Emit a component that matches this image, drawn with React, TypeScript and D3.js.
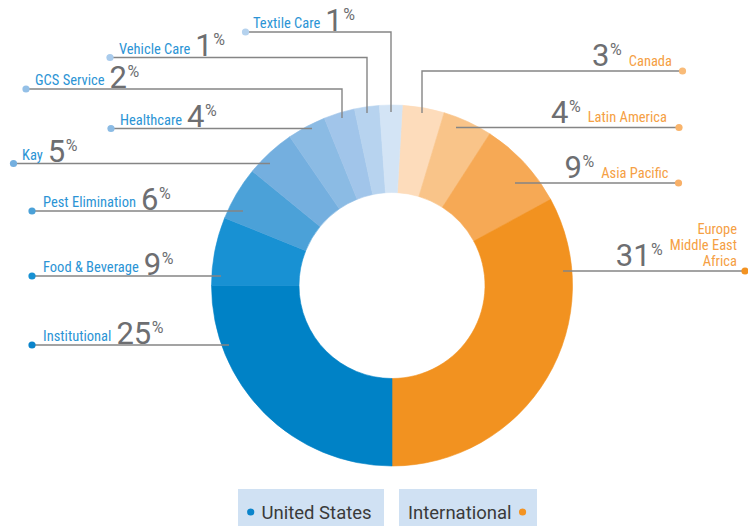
import React, { useEffect, useRef } from 'react';
import * as d3 from 'd3';

// ---------- data ----------
const usCategories = ['Institutional', 'Food & Beverage', 'Pest Elimination', 'Kay', 'Healthcare', 'GCS Service', 'Vehicle Care', 'Textile Care'];
const usPercents = [25, 9, 6, 5, 4, 2, 1, 1];
// slice sizes as drawn in the reference (degrees of the ring)
const usArcShares = [90, 22, 17.3, 16.2, 12.5, 10, 8, 7.3];

const intlCategories = ['Canada', 'Latin America', 'Asia Pacific', 'Europe\nMiddle East\nAfrica'];
const intlPercents = [3, 4, 9, 31];
const intlArcShares = [13.5, 16, 28.7, 118.5];

const legendLabels = ['United States', 'International'];

// ---------- styles ----------
const usColors = ['#0082c6', '#1891d3', '#4ba1d8', '#74afdf', '#8bbbe4', '#a1c5ea', '#b7d3ef', '#d3e4f5'];
const usDotColors = ['#0a84cb', '#1891d3', '#4ba1d8', '#74afdf', '#8bbbe4', '#94c0e7', '#a9cbec', '#b5d2ee'];
const intlColors = ['#fddcbb', '#f9c489', '#f6a955', '#f29220'];
const intlDotColors = ['#f9bb78', '#f9b46b', '#f8b068', '#f39322'];

// ---------- layout (label leader lines) ----------
// left: dot x, name x, line y, end x (horizontal) or leg x + leg end y
const usLayout = [
  { dotX: 32, nameX: 43, lineY: 345, endX: 229 },
  { dotX: 32, nameX: 43, lineY: 276, endX: 221 },
  { dotX: 32, nameX: 43, lineY: 211, endX: 243 },
  { dotX: 13.5, nameX: 22, lineY: 163.5, endX: 270 },
  { dotX: 111, nameX: 120, lineY: 128.5, endX: 312 },
  { dotX: 26, nameX: 35, lineY: 89, legX: 342, legEndY: 118 },
  { dotX: 110, nameX: 119, lineY: 57.5, legX: 367, legEndY: 113 },
  { dotX: 245.5, nameX: 253, lineY: 32, legX: 391, legEndY: 112 },
];
const intlLayout = [
  { dotX: 682.5, nameR: 672, lineY: 71, legX: 422, legEndY: 113 },
  { dotX: 679, nameR: 667, lineY: 127.5, endX: 456 },
  { dotX: 678.5, nameR: 668.5, lineY: 183, endX: 515 },
  { dotX: 745, nameR: 737, lineY: 271, endX: 563 },
];

const NAME_FONT = "'Liberation Sans Narrow', 'Roboto Condensed', 'DejaVu Sans Condensed', Roboto, sans-serif";
const NUM_FONT = 'Roboto, sans-serif';

export default function App() {
  const ref = useRef<SVGSVGElement>(null);

  useEffect(() => {
    const svg = d3.select(ref.current);
    svg.selectAll('*').remove();

    const cx = 392, cy = 285.5, rO = 180.5, rI = 93;
    const slices = [
      ...intlCategories.map((c, i) => ({ name: c, share: intlArcShares[i], color: intlColors[i] })),
      ...usCategories.map((c, i) => ({ name: c, share: usArcShares[i], color: usColors[i] })),
    ];
    const start = (3.3 * Math.PI) / 180;
    const pie = d3.pie<any>().value((d: any) => d.share).sort(null).startAngle(start).endAngle(start + 2 * Math.PI);
    const arc = d3.arc<any>().innerRadius(rI).outerRadius(rO);

    const g = svg.append('g').attr('transform', `translate(${cx},${cy})`);
    g.selectAll('path')
      .data(pie(slices))
      .join('path')
      .attr('d', arc as any)
      .attr('fill', (d: any) => d.data.color)
      .attr('stroke', (d: any) => d.data.color)
      .attr('stroke-width', 0.6);

    const lineColor = '#858585';
    const lines = svg.append('g');
    const labels = svg.append('g');

    // US labels (left)
    usCategories.forEach((name, i) => {
      const L: any = usLayout[i];
      const pts: [number, number][] = L.legX !== undefined
        ? [[L.dotX, L.lineY], [L.legX, L.lineY], [L.legX, L.legEndY]]
        : [[L.dotX, L.lineY], [L.endX, L.lineY]];
      lines.append('path').attr('d', d3.line()(pts) as string).attr('fill', 'none').attr('stroke', lineColor).attr('stroke-width', 1.4);
      lines.append('circle').attr('cx', L.dotX).attr('cy', L.lineY).attr('r', 3.6).attr('fill', usDotColors[i]);

      const t = labels.append('text').attr('x', L.nameX).attr('y', L.lineY - 4)
        .attr('font-family', NAME_FONT).attr('font-size', 14.5).attr('fill', '#2b94d5').text(name);
      const w = (t.node() as SVGTextElement).getComputedTextLength();
      const numX = L.nameX + w + 5;
      const n = labels.append('text').attr('x', numX).attr('y', L.lineY - 1.5)
        .attr('font-family', NUM_FONT).attr('font-size', 31).attr('fill', '#6d6e71').text(String(usPercents[i]));
      const nw = (n.node() as SVGTextElement).getComputedTextLength();
      labels.append('text').attr('x', numX + nw + 0.5).attr('y', L.lineY - 12.5)
        .attr('font-family', NUM_FONT).attr('font-size', 16).attr('fill', '#6d6e71').text('%');
    });

    // International labels (right)
    intlCategories.forEach((name, i) => {
      const L: any = intlLayout[i];
      const pts: [number, number][] = L.legX !== undefined
        ? [[L.legX, L.legEndY], [L.legX, L.lineY], [L.dotX, L.lineY]]
        : [[L.endX, L.lineY], [L.dotX, L.lineY]];
      lines.append('path').attr('d', d3.line()(pts) as string).attr('fill', 'none').attr('stroke', lineColor).attr('stroke-width', 1.4);
      lines.append('circle').attr('cx', L.dotX).attr('cy', L.lineY).attr('r', 3.6).attr('fill', intlDotColors[i]);

      const parts = name.split('\n');
      const t = labels.append('text').attr('text-anchor', 'end')
        .attr('font-family', NAME_FONT).attr('font-size', 14.5).attr('fill', '#f5a044');
      const lastBase = L.lineY - 5.5;
      parts.forEach((p, k) => {
        t.append('tspan').attr('x', L.nameR).attr('y', lastBase - (parts.length - 1 - k) * 15.6).text(p);
      });
      let w = 0;
      t.selectAll('tspan').each(function () {
        w = Math.max(w, (this as SVGTSpanElement).getComputedTextLength());
      });
      const pctR = L.nameR - w - 7;
      const pct = labels.append('text').attr('x', pctR).attr('y', L.lineY - 16).attr('text-anchor', 'end')
        .attr('font-family', NUM_FONT).attr('font-size', 16).attr('fill', '#6d6e71').text('%');
      const pw = (pct.node() as SVGTextElement).getComputedTextLength();
      labels.append('text').attr('x', pctR - pw - 0.5).attr('y', L.lineY - 5).attr('text-anchor', 'end')
        .attr('font-family', NUM_FONT).attr('font-size', 31).attr('fill', '#6d6e71').text(String(intlPercents[i]));
    });

    // legend
    const lg = svg.append('g');
    const boxes = [
      { x: 238, w: 146 },
      { x: 399, w: 138 },
    ];
    boxes.forEach((b) => {
      lg.append('rect').attr('x', b.x).attr('y', 489).attr('width', b.w).attr('height', 40).attr('fill', '#d0e1f3');
    });
    lg.append('circle').attr('cx', 250.7).attr('cy', 512).attr('r', 3.6).attr('fill', '#0a84cb');
    lg.append('text').attr('x', 261.5).attr('y', 518.5).attr('font-family', NUM_FONT).attr('font-size', 18.5)
      .attr('fill', '#3a3a3a').text(legendLabels[0]);
    const it = lg.append('text').attr('x', 408).attr('y', 518.5).attr('font-family', NUM_FONT).attr('font-size', 18.5)
      .attr('fill', '#3a3a3a').text(legendLabels[1]);
    const iw = (it.node() as SVGTextElement).getComputedTextLength();
    lg.append('circle').attr('cx', 408 + iw + 11).attr('cy', 512).attr('r', 3.6).attr('fill', '#f39322');
  }, []);

  return (
    <svg ref={ref} width={748} height={526} style={{ position: 'absolute', left: 0, top: 0, background: '#fff' }} />
  );
}
